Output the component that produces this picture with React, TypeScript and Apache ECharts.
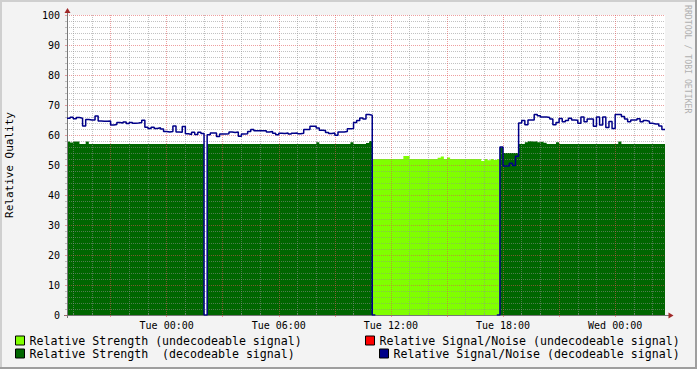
import React, { useEffect, useRef } from 'react';
import * as echarts from 'echarts';

// ---- time axis (10-minute steps starting Mon 18:40) ----
const DAYS = ['Mon', 'Tue', 'Wed'];
const START_MINUTE = 18 * 60 + 40;
const STEP_MINUTES = 10;
const STEP_COUNT = 192;

const X_TICK_LABELS = ['Tue 00:00', 'Tue 06:00', 'Tue 12:00', 'Tue 18:00', 'Wed 00:00'];

// ---- series values, one per 10-minute step ----
const STRENGTH_UNDECODEABLE: number[] = [
  0, 0, 0, 0, 0, 0, 0, 0, 0, 0, 0, 0,
  0, 0, 0, 0, 0, 0, 0, 0, 0, 0, 0, 0,
  0, 0, 0, 0, 0, 0, 0, 0, 0, 0, 0, 0,
  0, 0, 0, 0, 0, 0, 0, 0, 0, 0, 0, 0,
  0, 0, 0, 0, 0, 0, 0, 0, 0, 0, 0, 0,
  0, 0, 0, 0, 0, 0, 0, 0, 0, 0, 0, 0,
  0, 0, 0, 0, 0, 0, 0, 0, 0, 0, 0, 0,
  0, 0, 0, 0, 0, 0, 0, 0, 0, 0, 0, 0,
  0, 0, 52, 52, 52, 52, 52, 52, 52, 52, 52, 52,
  53, 53, 52, 52, 52, 52, 52, 52, 52, 52, 52, 52.4,
  52.8, 52, 52.5, 52, 52, 52, 52, 52, 52, 52, 52, 52,
  52, 51.3, 52, 51.6, 52, 51.7, 52, 0, 0, 0, 0, 0,
  0, 0, 0, 0, 0, 0, 0, 0, 0, 0, 0, 0,
  0, 0, 0, 0, 0, 0, 0, 0, 0, 0, 0, 0,
  0, 0, 0, 0, 0, 0, 0, 0, 0, 0, 0, 0,
  0, 0, 0, 0, 0, 0, 0, 0, 0, 0, 0, 0,
];

const STRENGTH_DECODEABLE: number[] = [
  57.8, 57.5, 57.8, 57.8, 57, 57, 57.8, 57, 57, 57, 57, 57,
  57, 57, 57, 57, 57, 57, 57, 57, 57, 57, 57, 57,
  57, 57, 57, 57, 57, 57, 57, 57, 57, 57, 57, 57,
  57, 57, 57, 57, 57, 57, 57, 57, 0, 57, 57, 57,
  57, 57, 57, 57, 57, 57, 57, 57, 57, 57, 57, 57,
  57, 57, 57, 57, 57, 57, 57, 57, 57, 57, 57, 57,
  57, 57, 57, 57, 57, 57, 57, 57, 57.6, 57, 57, 57,
  57, 57, 57, 57, 57, 57, 57, 57.6, 57, 57, 57, 57,
  57.3, 58, 0, 0, 0, 0, 0, 0, 0, 0, 0, 0,
  0, 0, 0, 0, 0, 0, 0, 0, 0, 0, 0, 0,
  0, 0, 0, 0, 0, 0, 0, 0, 0, 0, 0, 0,
  0, 0, 0, 0, 0, 0, 0, 56, 54, 54, 54, 54,
  54, 57, 57, 57.6, 57.9, 57.8, 57.9, 57.6, 57.8, 57.4, 57, 57,
  57, 57.6, 57, 57, 57, 57, 57, 57, 57, 57, 57, 57,
  57, 57, 57, 57, 57, 57, 57, 57, 57, 57.8, 57, 57,
  57, 57, 57, 57, 57, 57, 57, 57, 57, 57, 57, 57,
];

const SNR_UNDECODEABLE: (number | null)[] = [];

const SNR_DECODEABLE: (number | null)[] = [
  65.6, 65.9, 65.4, 65.8, 65.6, 63.0, 65.2, 65.0, 65.0, 66.3, 64.7, 64.6,
  64.6, 64.7, 63.3, 63.5, 64.2, 64.0, 64.3, 63.8, 64.2, 63.9, 64.0, 64.2,
  64.9, 62.6, 62.2, 62.6, 62.2, 62.4, 62.0, 61.2, 61.0, 61.2, 63.0, 61.0,
  60.9, 62.8, 60.4, 60.2, 60.9, 60.2, 60.9, 60.5, 0, 60.1, 60.7, 60.7,
  59.5, 60.3, 60.3, 60.4, 61.0, 60.8, 61.0, 59.6, 60.3, 60.4, 61.2, 61.8,
  61.4, 61.4, 61.4, 61.4, 61.0, 61.2, 60.6, 60.1, 60.6, 60.5, 60.7, 60.3,
  60.6, 60.7, 60.4, 60.6, 61.8, 61.8, 62.9, 62.9, 62.3, 61.6, 61.5, 60.8,
  60.5, 60.7, 59.9, 61.0, 61.0, 61.2, 62.1, 62.2, 64.2, 64.8, 65.7, 65.3,
  66.8, 66.6, 0, null, null, null, null, null, null, null, null, null,
  null, null, null, null, null, null, null, null, null, null, null, null,
  null, null, null, null, null, null, null, null, null, null, null, null,
  null, null, null, null, null, null, 0, 56, 49.7, 49.7, 50.6, 49.8,
  52.9, 64.0, 64.8, 63.4, 65.0, 65.0, 66.8, 66.4, 66.0, 66.0, 65.8, 65.3,
  63.4, 64.2, 65.5, 64.4, 64.8, 65.6, 65.0, 64.9, 63.9, 66.0, 64.4, 65.3,
  65.3, 62.9, 66.0, 63.3, 66.0, 62.5, 64.5, 62.2, 66.8, 66.8, 66.2, 65.3,
  64.4, 65.0, 65.0, 65.4, 64.4, 64.8, 64.6, 63.9, 63.7, 63.7, 63.0, 61.8,
];

// ---- names ----
const NAME_STR_UNDEC = 'Relative Strength (undecodeable signal)';
const NAME_STR_DEC = 'Relative Strength  (decodeable signal)';
const NAME_SNR_UNDEC = 'Relative Signal/Noise (undecodeable signal)';
const NAME_SNR_DEC = 'Relative Signal/Noise (decodeable signal)';

const C_LIME = '#80FF00';
const C_DGREEN = '#006600';
const C_RED = '#FF0000';
const C_BLUE = '#000088';
const C_GRID = 'rgba(143,143,143,0.55)';
const C_MGRID = 'rgba(222,80,80,0.55)';
const C_AXIS = '#777777';
const C_ARROW = '#A02828';
const FONT = '"DejaVu Sans Mono", monospace';

const CATEGORIES: string[] = [];
for (let i = 0; i <= STEP_COUNT; i++) {
  const t = START_MINUTE + i * STEP_MINUTES;
  const m = t % 1440;
  const hh = String(Math.floor(m / 60)).padStart(2, '0');
  const mm = String(m % 60).padStart(2, '0');
  CATEGORIES.push(`${DAYS[Math.floor(t / 1440)]} ${hh}:${mm}`);
}
const minuteOf = (i: number) => (START_MINUTE + i * STEP_MINUTES) % 1440;
const isMajor = (i: number) => minuteOf(i) % 180 === 0;
const isMinor = (i: number) => minuteOf(i) % 60 === 0 && minuteOf(i) % 180 !== 0;
const isLabel = (_i: number, v: string) => X_TICK_LABELS.includes(v);

const withEnd = (a: (number | null)[]) => (a.length ? [...a, a[a.length - 1]] : []);

function legendAt(left: number, top: number, name: string, color: string) {
  return {
    left,
    top,
    padding: 0,
    itemWidth: 9,
    itemHeight: 9,
    selectedMode: false,
    textStyle: { fontFamily: FONT, fontSize: 11.6, color: '#000' },
    data: [{ name, icon: 'rect', itemStyle: { color, borderColor: '#000', borderWidth: 1 } }],
  };
}

export default function App() {
  const ref = useRef<HTMLDivElement>(null);
  useEffect(() => {
    document.body.style.margin = '0';
    if (!ref.current) return;
    const chart = echarts.init(ref.current, undefined, { renderer: 'svg' });
    const option: any = {
      animation: false,
      backgroundColor: '#F3F3F3',
      grid: {
        left: 67,
        top: 15,
        width: 598,
        height: 300,
        show: true,
        backgroundColor: '#FFFFFF',
        borderWidth: 0,
        containLabel: false,
        outerBoundsMode: 'none',
      },
      xAxis: [
        {
          type: 'category',
          data: CATEGORIES,
          boundaryGap: false,
          z: 3,
          axisLine: { show: true, onZero: false, lineStyle: { color: C_AXIS, width: 1 } },
          axisTick: { show: true, interval: isMajor, length: 2, lineStyle: { color: C_MGRID } },
          axisLabel: { interval: isLabel, margin: 5, fontFamily: FONT, fontSize: 10, color: '#000' },
          splitLine: { show: true, interval: isMajor, lineStyle: { color: C_MGRID, type: [1, 1] } },
        },
        {
          type: 'category',
          data: CATEGORIES,
          boundaryGap: false,
          z: 3,
          axisLine: { show: false },
          axisTick: { show: true, interval: isMinor, length: 2, lineStyle: { color: C_GRID } },
          axisLabel: { show: false },
          splitLine: { show: true, interval: isMinor, lineStyle: { color: C_GRID, type: [1, 1] } },
        },
      ],
      yAxis: {
        type: 'value',
        min: 0,
        max: 100,
        interval: 10,
        z: 3,
        name: 'Relative Quality',
        nameLocation: 'middle',
        nameGap: 52,
        nameTextStyle: { fontFamily: FONT, fontSize: 11, color: '#000' },
        axisLine: { show: true, lineStyle: { color: C_AXIS, width: 1 } },
        axisTick: { show: true, length: 2, lineStyle: { color: C_MGRID } },
        minorTick: { show: true, splitNumber: 5, length: 2, lineStyle: { color: C_GRID } },
        axisLabel: { margin: 7, fontFamily: FONT, fontSize: 10, color: '#000' },
        splitLine: { show: true, lineStyle: { color: C_MGRID, type: [1, 1] } },
        minorSplitLine: { show: true, lineStyle: { color: C_GRID, type: [1, 1] } },
      },
      legend: [
        legendAt(15, 334.5, NAME_STR_UNDEC, C_LIME),
        legendAt(15, 347.5, NAME_STR_DEC, C_DGREEN),
        legendAt(365, 334.5, NAME_SNR_UNDEC, C_RED),
        legendAt(379, 347.5, NAME_SNR_DEC, C_BLUE),
      ],
      series: [
        {
          name: NAME_STR_UNDEC,
          type: 'line',
          step: 'end',
          data: withEnd(STRENGTH_UNDECODEABLE),
          color: C_LIME,
          symbol: 'none',
          lineStyle: { width: 0 },
          areaStyle: { color: C_LIME, opacity: 1 },
          silent: true,
          z: 1,
        },
        {
          name: NAME_STR_DEC,
          type: 'line',
          step: 'end',
          data: withEnd(STRENGTH_DECODEABLE),
          color: C_DGREEN,
          symbol: 'none',
          lineStyle: { width: 0 },
          areaStyle: { color: C_DGREEN, opacity: 1 },
          silent: true,
          z: 1,
        },
        {
          name: NAME_SNR_UNDEC,
          type: 'line',
          step: 'end',
          data: withEnd(SNR_UNDECODEABLE),
          color: C_RED,
          symbol: 'none',
          lineStyle: { width: 1.5, color: C_RED },
          silent: true,
          z: 4,
        },
        {
          name: NAME_SNR_DEC,
          type: 'line',
          step: 'end',
          data: withEnd(SNR_DECODEABLE),
          color: C_BLUE,
          symbol: 'none',
          connectNulls: false,
          lineStyle: { width: 1.5, color: C_BLUE },
          silent: true,
          z: 4,
        },
      ],
      graphic: [
        { type: 'rect', shape: { x: 0, y: 0, width: 697, height: 2 }, style: { fill: '#CFCFCF' }, silent: true },
        { type: 'rect', shape: { x: 0, y: 0, width: 2, height: 369 }, style: { fill: '#CFCFCF' }, silent: true },
        { type: 'rect', shape: { x: 695, y: 0, width: 2, height: 369 }, style: { fill: '#9E9E9E' }, silent: true },
        { type: 'rect', shape: { x: 0, y: 367, width: 697, height: 2 }, style: { fill: '#9E9E9E' }, silent: true },
        { type: 'line', shape: { x1: 67.5, y1: 11, x2: 67.5, y2: 15 }, style: { stroke: C_AXIS, lineWidth: 1 }, silent: true },
        { type: 'line', shape: { x1: 67.5, y1: 315, x2: 67.5, y2: 318 }, style: { stroke: C_AXIS, lineWidth: 1 }, silent: true },
        { type: 'line', shape: { x1: 64, y1: 315.5, x2: 67, y2: 315.5 }, style: { stroke: C_AXIS, lineWidth: 1 }, silent: true },
        { type: 'line', shape: { x1: 665, y1: 315.5, x2: 669, y2: 315.5 }, style: { stroke: C_AXIS, lineWidth: 1 }, silent: true },
        { type: 'polygon', shape: { points: [[64.5, 13], [70.5, 13], [67.5, 8]] }, style: { fill: C_ARROW }, silent: true },
        { type: 'polygon', shape: { points: [[668.5, 312.5], [668.5, 318.5], [673.5, 315.5]] }, style: { fill: C_ARROW }, silent: true },
        {
          type: 'text',
          x: 688,
          y: 5,
          rotation: -Math.PI / 2,
          silent: true,
          style: {
            text: 'RRDTOOL / TOBI OETIKER',
            font: '8.2px "DejaVu Sans Mono", monospace',
            fill: '#B0B0B0',
            textAlign: 'left',
            textVerticalAlign: 'middle',
          },
        },
      ],
    };
    chart.setOption(option);
    return () => chart.dispose();
  }, []);
  return <div ref={ref} style={{ position: 'fixed', left: 0, top: 0, width: 697, height: 369 }} />;
}
